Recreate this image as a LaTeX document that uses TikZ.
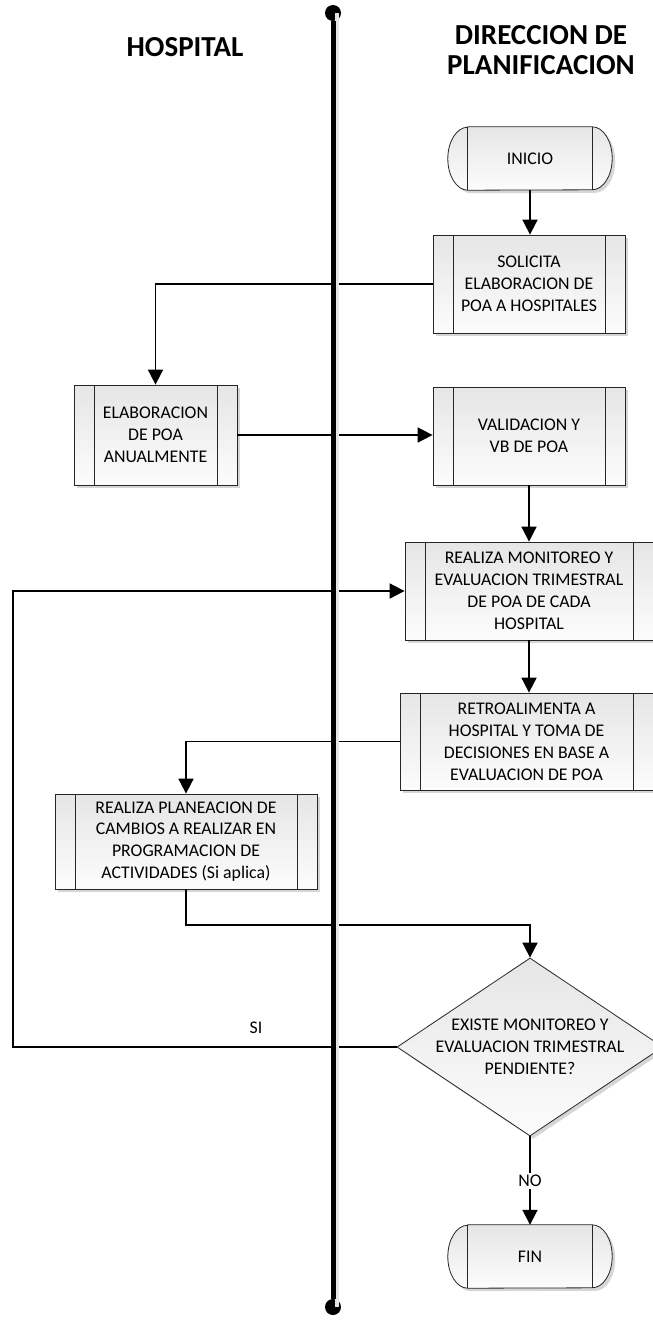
\documentclass[tikz,border=0pt]{standalone}
\usepackage{fontspec}
\setmainfont{Carlito}
\usetikzlibrary{arrows.meta,shapes.geometric,shadows,backgrounds}

\begin{document}
\begin{tikzpicture}[x=1pt,y=1pt,
  font=\fontsize{17.8}{21.9}\selectfont,
  boxfill/.style={top color=black!10, bottom color=black!1},
  shade/.style={drop shadow={shadow xshift=3pt,shadow yshift=-3pt,fill=black!16,opacity=1}},
  outline/.style={draw=black!85, line width=0.8pt},
  process/.style={outline, boxfill, shade, inner sep=0pt, align=center,
    path picture={
      \draw[black!85, line width=0.8pt]
        ([xshift=20pt]path picture bounding box.north west) -- ([xshift=20pt]path picture bounding box.south west)
        ([xshift=-20pt]path picture bounding box.north east) -- ([xshift=-20pt]path picture bounding box.south east);}},
  terminal/.style={inner sep=0pt, minimum width=124pt, minimum height=63pt},
  decision/.style={diamond, outline, boxfill, shade, inner sep=0pt, minimum width=266pt, minimum height=178pt},
  flow/.style={line width=1.8pt, -{Triangle[width=15pt,length=15pt]}},
  link/.style={line width=1.8pt},
  lanehead/.style={font=\fontsize{29}{30}\selectfont\bfseries, align=center},
  tag/.style={inner sep=2pt}
]
\useasboundingbox (0,0) rectangle (653,-1320);

% lane headers
\node[lanehead] (hhosp) at (185,-47) {HOSPITAL};
\node[lanehead] (hdir) at (541,-50) {DIRECCION DE\\PLANIFICACION};

% steps
\node[terminal] (inicio) at (530,-158.5) {INICIO};
\node[process, minimum width=192pt, minimum height=98pt] (solicita) at (529,-284)
  {SOLICITA\\ELABORACION DE\\POA A HOSPITALES};
\node[process, minimum width=163pt, minimum height=100pt] (elab) at (155.5,-435)
  {ELABORACION\\DE POA\\ANUALMENTE};
\node[process, minimum width=192pt, minimum height=98pt] (valid) at (529,-436)
  {VALIDACION Y\\VB DE POA};
\node[process, minimum width=248pt, minimum height=98pt] (monit) at (529,-591)
  {REALIZA MONITOREO Y\\EVALUACION TRIMESTRAL\\DE POA DE CADA\\HOSPITAL};
\node[process, minimum width=253pt, minimum height=97pt] (retro) at (526.5,-741.5)
  {RETROALIMENTA A\\HOSPITAL Y TOMA DE\\DECISIONES EN BASE A\\EVALUACION DE POA};
\node[process, minimum width=262pt, minimum height=95pt] (plan) at (186,-841.5)
  {REALIZA PLANEACION DE\\CAMBIOS A REALIZAR EN\\PROGRAMACION DE\\ACTIVIDADES (Si aplica)};
\node[decision] (existe) at (530,-1047) {};
\node[align=center, inner sep=0pt] (existetxt) at (existe) {EXISTE MONITOREO Y\\EVALUACION TRIMESTRAL\\PENDIENTE?};
\node[terminal] (fin) at (530,-1256.5) {FIN};

% rounded terminal outlines behind their labels
\begin{scope}[on background layer]
  \foreach \t in {inicio,fin}{
    \draw[outline, boxfill, shade] (\t.north west) -- (\t.north east)
      arc[start angle=90, end angle=-90, x radius=20, y radius=31.5]
      -- (\t.south west)
      arc[start angle=270, end angle=90, x radius=20, y radius=31.5] -- cycle;
    \draw[outline] (\t.north west) -- (\t.south west) (\t.north east) -- (\t.south east);
  }
\end{scope}

% connectors
\draw[flow] (inicio.south) -- (inicio.south |- solicita.north);
\draw[flow] (solicita.west) -| (elab.north);
\draw[flow] (elab.east) -- (elab.east -| valid.west);
\draw[flow] (valid.south) -- (monit.north);
\draw[flow] (monit.south) -- (monit.south |- retro.north);
\draw[flow] (retro.west) -| (plan.north);
\coordinate (planout) at (186,-925);
\draw[flow] (plan.south) -- (planout) -| (existe.north);
\coordinate (loopx) at (13,-1047);
\draw[flow] (existe.west) -- (loopx) |- (monit.west);
\node[tag] (si) at (256,-1028) {SI};
\node[tag, fill=white] (no) at (530,-1181) {NO};
\draw[link] (existe.south) -- (no.north);
\draw[flow] (no.south) -- (fin.north);

% lane divider
\node[circle, fill=black, inner sep=0pt, minimum size=16pt] (divtop) at (333,-13) {};
\node[circle, fill=black, inner sep=0pt, minimum size=16pt] (divbot) at (333,-1307) {};
\draw[line width=4pt, black!10] ([xshift=4pt]divtop.center) -- ([xshift=4pt]divbot.center);
\draw[line width=5pt] (divtop) -- (divbot);
\end{tikzpicture}
\end{document}
